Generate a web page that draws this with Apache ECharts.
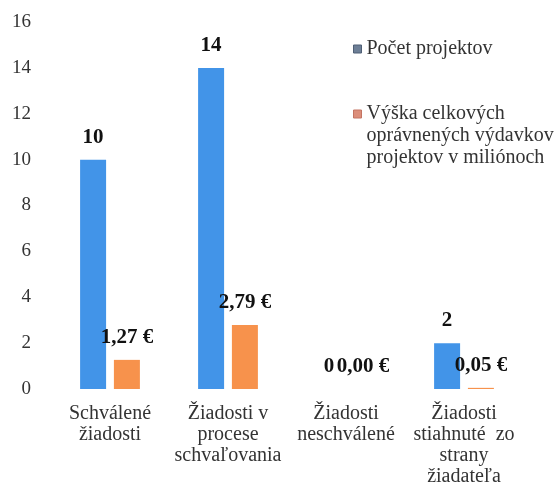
<!DOCTYPE html>
<html>
<head>
<meta charset="UTF-8" />
<title>Projekty</title>
<script src="https://cdn.jsdelivr.net/npm/echarts@6/dist/echarts.min.js"></script>
<style type="text/css">
body{
	margin: 0px;
	background-color: #fff;
}
#chart{
	width: 555px;
	height: 494px;
}
</style>
</head>
<body>

<div id="chart"></div>

<script type="text/javascript">

var categories = ['Schválené\nžiadosti', 'Žiadosti v\nprocese\nschvaľovania', 'Žiadosti\nneschválené', 'Žiadosti\nstiahnuté  zo\nstrany\nžiadateľa'];
var pocetProjektov = [10, 14, 0, 2];
var vyskaVydavkov = [1.27, 2.79, 0, 0.05];
var seriesNames = ['Počet projektov', 'Výška celkových\noprávnených výdavkov\nprojektov v miliónoch'];

var font = 'Liberation Serif';

function euro(v){
	return v.toFixed(2).replace('.', ',') + ' €';
}

var legendText = { fontFamily: font, fontSize: 20, color: '#333', lineHeight: 22 };

var myChart = echarts.init(document.getElementById('chart'));
myChart.setOption({
	animation: false,
	grid: { left: 51, right: 32, top: 22, bottom: 105 },
	legend: [
		{
			left: 348, top: 33,
			itemWidth: 8, itemHeight: 8, icon: 'rect',
			itemStyle: { color: '#6d7f96', borderColor: '#4f5f75', borderWidth: 1 },
			textStyle: legendText,
			data: [seriesNames[0]]
		},
		{
			left: 348, top: 54,
			itemWidth: 8, itemHeight: 8, icon: 'rect',
			itemStyle: { color: '#dc8e7a', borderColor: '#c47462', borderWidth: 1 },
			textStyle: legendText,
			// two empty lines in front so the icon sits on the first text line
			formatter: function(name){ return '\n\n' + name; },
			data: [seriesNames[1]]
		}
	],
	xAxis: {
		type: 'category',
		data: categories,
		axisLine: { show: false },
		axisTick: { show: false },
		axisLabel: { fontFamily: font, fontSize: 20, color: '#333', lineHeight: 21, margin: 14, interval: 0 }
	},
	yAxis: {
		type: 'value',
		min: 0,
		max: 16,
		interval: 2,
		splitLine: { show: false },
		axisLabel: { fontFamily: font, fontSize: 19, color: '#333', margin: 20 }
	},
	series: [
		{
			name: seriesNames[0],
			type: 'bar',
			data: pocetProjektov,
			barWidth: 26,
			barGap: '30%',
			itemStyle: { color: '#4294e8' },
			label: { show: true, position: 'top', distance: 12, fontFamily: font, fontSize: 21, fontWeight: 'bold', color: '#111' }
		},
		{
			name: seriesNames[1],
			type: 'bar',
			data: vyskaVydavkov,
			barWidth: 26,
			itemStyle: { color: '#f7924c' },
			label: { show: true, position: 'top', distance: 12, fontFamily: font, fontSize: 21, fontWeight: 'bold', color: '#111',
				formatter: function(p){ return euro(p.value); } }
		}
	]
});

</script>

</body>
</html>
